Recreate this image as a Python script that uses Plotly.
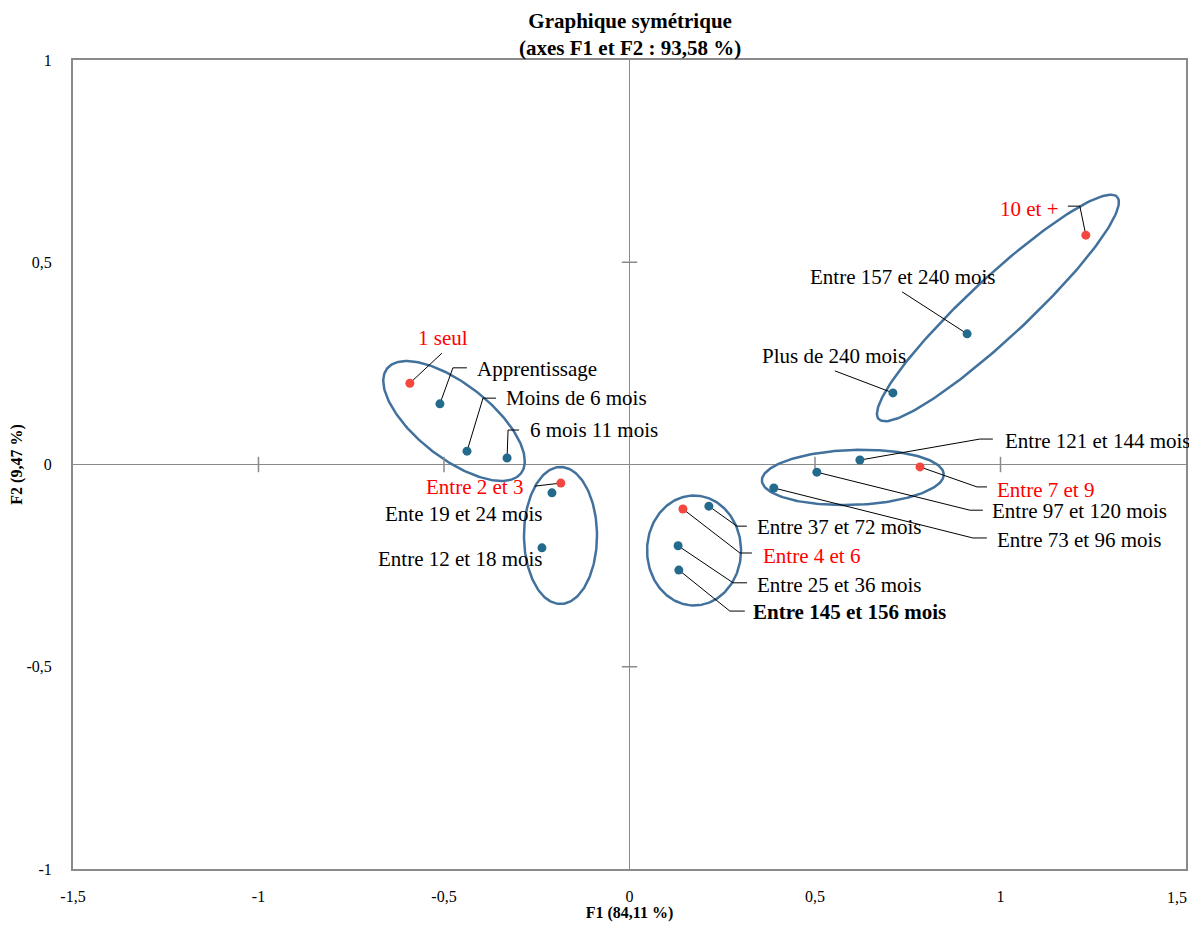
import numpy as np
import plotly.graph_objects as go

# ---------------- data ----------------
row_labels = ["1 seul", "Entre 2 et 3", "Entre 4 et 6", "Entre 7 et 9", "10 et +"]
row_f1 = [-0.592, -0.185, 0.144, 0.783, 1.230]
row_f2 = [0.201, -0.046, -0.110, -0.006, 0.567]

col_labels = ["Apprentissage", "Moins de 6 mois", "6 mois 11 mois", "Ente 19 et 24 mois",
              "Entre 12 et 18 mois", "Entre 37 et 72 mois", "Entre 25 et 36 mois",
              "Entre 145 et 156 mois", "Entre 73 et 96 mois", "Entre 97 et 120 mois",
              "Entre 121 et 144 mois", "Plus de 240 mois", "Entre 157 et 240 mois"]
col_f1 = [-0.511, -0.438, -0.330, -0.209, -0.236, 0.214, 0.131, 0.133, 0.389, 0.505, 0.621, 0.710, 0.910]
col_f2 = [0.150, 0.033, 0.016, -0.070, -0.206, -0.103, -0.201, -0.261, -0.058, -0.019, 0.011, 0.177, 0.323]

x_ticks = [-1.5, -1, -0.5, 0, 0.5, 1, 1.5]
x_ticktext = ["-1,5", "-1", "-0,5", "0", "0,5", "1", "1,5"]
y_ticks = [-1, -0.5, 0, 0.5, 1]
y_ticktext = ["-1", "-0,5", "0", "0,5", "1"]

title_text = "<b>Graphique symétrique<br>(axes F1 et F2 : 93,58 %)</b>"
x_title = "<b>F1 (84,11 %)</b>"
y_title = "<b>F2 (9,47 %)</b>"

# ---------------- layout constants ----------------
# page body has an 8px margin, so the figure is shifted by 8px
W, H = 1189, 914
ML, MR, MT, MB = 65, 11, 52, 53
XR = (-1.5, 1.5)
YR = (-1, 1)
PW, PH = W - ML - MR, H - MT - MB
SX = PW / (XR[1] - XR[0])   # px per unit
SY = PH / (YR[1] - YR[0])

FONT = "Liberation Serif, Times New Roman, serif"
BLUE = "#236a8c"
RED = "#f4473f"
RED_TXT = "#ff0000"
ELL = "#41719c"
GRAY = "#8a8a8a"

def off(x, y, dx, dy):
    """pixel offset (screen, y down) -> data coordinates"""
    return x + dx / SX, y - dy / SY

# label placement: name -> (leader elbow offsets px, text offset px, xanchor, color, bold)
label_style = {
    "1 seul": ([(32, -30)], (33, -45), "center", RED_TXT, False),
    "Entre 2 et 3": ([(-26, 3)], (-36, 4), "right", RED_TXT, False),
    "Entre 4 et 6": ([(57, 44), (69, 44)], (78, 47), "left", RED_TXT, False),
    "Entre 7 et 9": ([(57, 20), (67, 20)], (75, 23), "left", RED_TXT, False),
    "10 et +": ([(-6, -29), (-18, -29)], (-25, -26), "right", RED_TXT, False),
    "Apprentissage": ([(13, -36), (27, -36)], (35, -35), "left", "black", False),
    "Moins de 6 mois": ([(16, -53), (29, -53)], (37, -53), "left", "black", False),
    "6 mois 11 mois": ([(1, -28), (12, -28)], (21, -28), "left", "black", False),
    "Ente 19 et 24 mois": ([], (-8, 21), "right", "black", False),
    "Entre 12 et 18 mois": ([], (2, 11), "right", "black", False),
    "Entre 37 et 72 mois": ([(28, 20), (38, 20)], (46, 21), "left", "black", False),
    "Entre 25 et 36 mois": ([(55, 37), (69, 37)], (77, 39), "left", "black", False),
    "Entre 145 et 156 mois": ([(51, 41), (66, 41)], (72, 42), "left", "black", True),
    "Entre 73 et 96 mois": ([(199, 50), (213, 50)], (221, 52), "left", "black", False),
    "Entre 97 et 120 mois": ([(153, 38), (166, 38)], (173, 39), "left", "black", False),
    "Entre 121 et 144 mois": ([(120, -21), (133, -21)], (143, -19), "left", "black", False),
    "Plus de 240 mois": ([(-58, -22)], (-59, -37), "center", "black", False),
    "Entre 157 et 240 mois": ([(-65, -42)], (-65, -57), "center", "black", False),
}

# ellipses: center (data), semi-axes px, rotation deg (screen, clockwise)
ellipses = [
    (-0.473, 0.1075, 85, 37, 38),
    (-0.186, -0.1755, 36.5, 68.5, 0),
    (0.174, -0.2126, 47, 55, 0),
    (0.602, -0.032, 91, 27.5, -2),
    (0.993, 0.387, 163, 30, -43),
]

fig = go.Figure()

# ellipses
t = np.linspace(0, 2 * np.pi, 200)
for cx, cy, a, b, th in ellipses:
    r = np.deg2rad(th)
    px = a * np.cos(t) * np.cos(r) - b * np.sin(t) * np.sin(r)
    py = a * np.cos(t) * np.sin(r) + b * np.sin(t) * np.cos(r)
    fig.add_trace(go.Scatter(x=cx + px / SX, y=cy - py / SY, mode="lines",
                             line=dict(color=ELL, width=2.5), hoverinfo="skip", showlegend=False))

# axis tick crosses on zero lines
fig.add_trace(go.Scatter(x=[v for v in x_ticks if abs(v) not in (0, 1.5)], y=[0] * 4, mode="markers",
                         marker=dict(symbol="line-ns", size=11, line=dict(color=GRAY, width=1.5)),
                         hoverinfo="skip", showlegend=False))
fig.add_trace(go.Scatter(x=[0, 0], y=[-0.5, 0.5], mode="markers",
                         marker=dict(symbol="line-ew", size=11, line=dict(color=GRAY, width=1.5)),
                         hoverinfo="skip", showlegend=False))

# leaders + annotations
all_labels = row_labels + col_labels
all_x = row_f1 + col_f1
all_y = row_f2 + col_f2
for name, x, y in zip(all_labels, all_x, all_y):
    elbows, toff, anchor, color, bold = label_style[name]
    if elbows:
        lx = [x]; ly = [y]
        for dx, dy in elbows:
            ex, ey = off(x, y, dx, dy)
            lx.append(ex); ly.append(ey)
        fig.add_trace(go.Scatter(x=lx, y=ly, mode="lines", line=dict(color="black", width=1),
                                 hoverinfo="skip", showlegend=False))
    tx, ty = off(x, y, *toff)
    fig.add_annotation(x=tx, y=ty, text=f"<b>{name}</b>" if bold else name, showarrow=False,
                       xanchor=anchor, yanchor="middle",
                       font=dict(family=FONT, size=21, color=color))

# points
fig.add_trace(go.Scatter(x=col_f1, y=col_f2, mode="markers", text=col_labels,
                         marker=dict(color=BLUE, size=9), showlegend=False))
fig.add_trace(go.Scatter(x=row_f1, y=row_f2, mode="markers", text=row_labels,
                         marker=dict(color=RED, size=9), showlegend=False))

fig.add_shape(type="line", x0=0, x1=0, y0=YR[0], y1=YR[1], line=dict(color=GRAY, width=1), layer="below")
fig.add_shape(type="line", x0=XR[0], x1=XR[1], y0=0, y1=0, line=dict(color=GRAY, width=1), layer="below")

# title (two lines) above the plot
fig.add_annotation(x=0.5, xref="paper", y=1 + (MT - 26) / PH, yref="paper", text=title_text,
                   showarrow=False, xanchor="center", yanchor="middle",
                   font=dict(family=FONT, size=21, color="black"))

# last x tick label kept inside the page edge
fig.add_annotation(x=x_ticks[-1], xref="x", y=0, yref="paper", yshift=-28, xshift=3,
                   text=x_ticktext[-1], showarrow=False, xanchor="right", yanchor="middle",
                   font=dict(family=FONT, size=16, color="black"))

fig.update_layout(
    width=W, height=H,
    margin=dict(l=ML, r=MR, t=MT, b=MB, autoexpand=False),
    paper_bgcolor="white", plot_bgcolor="white",
    font=dict(family=FONT, color="black", size=16),
    xaxis=dict(range=list(XR), tickvals=x_ticks[:-1], ticktext=x_ticktext[:-1], showgrid=False, zeroline=False,
               showline=True, mirror=True, linecolor=GRAY, linewidth=2, ticks="", automargin=False,
               ticklabelstandoff=12, tickfont=dict(size=16),
               title=dict(text=x_title, font=dict(size=16), standoff=18)),
    yaxis=dict(range=list(YR), tickvals=y_ticks, ticktext=y_ticktext, showgrid=False, zeroline=False,
               showline=True, mirror=True, linecolor=GRAY, linewidth=2, ticks="", automargin=False,
               ticklabelstandoff=16, tickfont=dict(size=16),
               title=dict(text=y_title, font=dict(size=16), standoff=14)),
)

fig.write_html("out.html")
